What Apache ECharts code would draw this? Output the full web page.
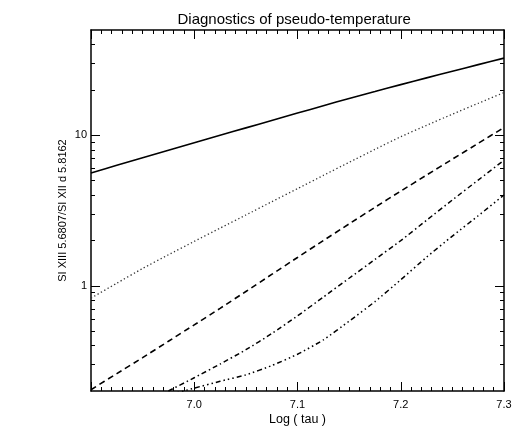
<!DOCTYPE html>
<html>
<head>
<meta charset="utf-8">
<script src="https://cdn.jsdelivr.net/npm/echarts@6/dist/echarts.min.js"></script>
<style>html,body{margin:0;padding:0;background:#fff;}#c{width:515px;height:426px;}</style>
</head>
<body>
<div id="c"></div>
<script>
// Log(tau) sample positions
const logTau = [6.900, 6.925, 6.950, 6.975, 7.000, 7.025, 7.050, 7.075, 7.100, 7.125, 7.150, 7.175, 7.200, 7.225, 7.250, 7.275, 7.300];
// ratio curves
const curveSolid = [5.62, 6.31, 7.08, 7.94, 8.91, 10.0, 11.19, 12.53, 14.03, 15.70, 17.54, 19.50, 21.68, 24.04, 26.61, 29.44, 32.51];
const curveDotted = [0.828, 1.040, 1.303, 1.607, 1.972, 2.415, 2.951, 3.614, 4.416, 5.408, 6.607, 8.054, 9.772, 11.64, 13.80, 16.29, 19.19];
const curveDashed = [0.204, 0.261, 0.333, 0.428, 0.550, 0.708, 0.916, 1.189, 1.542, 1.995, 2.576, 3.319, 4.256, 5.433, 6.934, 8.831, 11.25];
const curveDashDot = [0.107, 0.132, 0.162, 0.200, 0.245, 0.302, 0.376, 0.481, 0.631, 0.841, 1.122, 1.496, 1.995, 2.723, 3.715, 5.035, 6.823];
const curveDashDot3 = [0.138, 0.153, 0.170, 0.188, 0.209, 0.232, 0.256, 0.295, 0.351, 0.437, 0.582, 0.785, 1.096, 1.549, 2.138, 2.917, 4.009];

const yMajorTicks = [1, 10];
const yMinorTicks = [0.3, 0.4, 0.5, 0.6, 0.7, 0.8, 0.9, 2, 3, 4, 5, 6, 7, 8, 9, 20, 30, 40];
const xMin = 6.9, xMax = 7.3, xStep = 0.1;
const yMin = 0.2, yMax = 50;

const titleText = 'Diagnostics of pseudo-temperature';
const xName = 'Log ( tau )';
const yName = 'SI XIII 5.6807/SI XII d 5.8162';

const FONT = 'Liberation Sans';
const GRID = { left: 91, right: 11, top: 30, bottom: 35 };
const W = 515;
const pairs = arr => logTau.map((x, i) => [x, arr[i]]);

function xAxisDef(pos, withLabels) {
  return {
    type: 'value', position: pos, min: xMin, max: xMax, interval: xStep,
    name: withLabels ? xName : '', nameLocation: 'middle', nameGap: 22, nameMoveOverlap: false,
    nameTextStyle: { fontFamily: FONT, fontSize: 12.5, color: '#000' },
    axisLine: { show: true, onZero: false, lineStyle: { color: '#000', width: 1.5 } },
    axisTick: { show: true, inside: true, length: 9, lineStyle: { color: '#000', width: 1 } },
    minorTick: { show: true, splitNumber: 10, length: 4, lineStyle: { color: '#000', width: 1 } },
    axisLabel: { show: withLabels, showMinLabel: false, margin: 8, fontFamily: FONT, fontSize: 11, color: '#000',
      formatter: v => v.toFixed(1) },
    splitLine: { show: false }, minorSplitLine: { show: false }
  };
}
function yAxisDef(pos, ticks, len, withLabels, withLine) {
  return {
    type: 'log', logBase: 10, position: pos, min: yMin, max: yMax,
    name: withLabels ? yName : '', nameLocation: 'middle', nameGap: 23, nameMoveOverlap: false,
    nameTextStyle: { fontFamily: FONT, fontSize: 11, color: '#000' },
    axisLine: { show: withLine, onZero: false, lineStyle: { color: '#000', width: 1.5 } },
    axisTick: { show: true, inside: true, length: len, customValues: ticks, lineStyle: { color: '#000', width: 1 } },
    axisLabel: { show: withLabels, customValues: withLabels ? yMajorTicks : undefined, margin: 4,
      fontFamily: FONT, fontSize: 11, color: '#000' },
    splitLine: { show: false }
  };
}

const chart = echarts.init(document.getElementById('c'), null, { renderer: 'canvas' });
chart.setOption({
  backgroundColor: '#ffffff',
  animation: false,
  graphic: [{
    type: 'text', left: GRID.left + (W - GRID.left - GRID.right) / 2 - 120, top: 12,
    style: { text: titleText, font: '15px "' + FONT + '"', fill: '#000', width: 240, align: 'center' }
  }],
  grid: Object.assign({ containLabel: false, outerBoundsMode: 'none' }, GRID),
  xAxis: [xAxisDef('bottom', true), xAxisDef('top', false)],
  yAxis: [
    yAxisDef('left', yMajorTicks, 9, true, true),
    yAxisDef('left', yMinorTicks, 4, false, false),
    yAxisDef('right', yMajorTicks, 9, false, true),
    yAxisDef('right', yMinorTicks, 4, false, false)
  ],
  series: [
    { type: 'line', data: pairs(curveSolid), showSymbol: false, smooth: 0.2, clip: true,
      lineStyle: { color: '#000', width: 1.6, type: 'solid' } },
    { type: 'line', data: pairs(curveDotted), showSymbol: false, smooth: 0.2, clip: true,
      lineStyle: { color: '#333', width: 1.3, type: [1.3, 2.5] } },
    { type: 'line', data: pairs(curveDashed), showSymbol: false, smooth: 0.2, clip: true,
      lineStyle: { color: '#000', width: 1.6, type: [6, 4] } },
    { type: 'line', data: pairs(curveDashDot), showSymbol: false, smooth: 0.2, clip: true,
      lineStyle: { color: '#000', width: 1.5, type: [5, 3, 1.5, 3] } },
    { type: 'line', data: pairs(curveDashDot3), showSymbol: false, smooth: 0.2, clip: true,
      lineStyle: { color: '#000', width: 1.5, type: [5, 3, 1.5, 3, 1.5, 3, 1.5, 3] } }
  ]
});
</script>
</body>
</html>
